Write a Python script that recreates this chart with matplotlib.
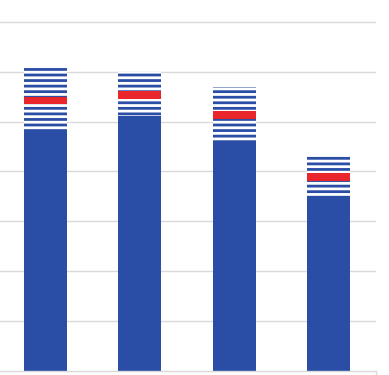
import numpy as np
from matplotlib import pyplot as plt

# values (one gridline = 10)
groups = ['A', 'B', 'C', 'D']
base = [48.1, 51.2, 45.8, 35.1]      # solid blue part
upper = [60.9, 60.1, 56.9, 43.3]     # top of the striped range
marker = [54.3, 55.4, 51.3, 38.9]    # red band centre

blue = '#2a4da6'
red = '#e8262b'
grid_c = '#d9d9d9'

plt.rcParams['hatch.linewidth'] = 2.0

fig = plt.figure(figsize=(3.89, 3.75), dpi=100)
ax = fig.add_axes([-1.7 / 389, 4.5 / 375, 377.4 / 389, 370.5 / 375])

x = np.arange(len(groups))
w = 0.456
band = 1.55

ax.bar(x, base, width=w, color=blue, linewidth=0, zorder=2)
ax.bar(x, np.subtract(upper, base), bottom=base, width=w, color='white',
       edgecolor=blue, hatch='---', linewidth=0, zorder=2)
ax.bar(x, band, bottom=np.subtract(marker, band / 2), width=w, color=red,
       linewidth=0, zorder=3)

ax.set_xlim(-0.5, 3.5)
ax.set_ylim(0, 370.5 / 4.975)
ax.set_yticks(np.arange(10, 80, 10))
ax.yaxis.grid(True, color=grid_c, linewidth=1.0)
ax.set_axisbelow(True)
ax.tick_params(axis='y', length=0, labelleft=False)
ax.set_xticks([3.5])
ax.tick_params(axis='x', length=3, color=grid_c, width=1.0, labelbottom=False)

for s in ['top', 'right', 'left']:
    ax.spines[s].set_visible(False)
ax.spines['bottom'].set_color(grid_c)
ax.spines['bottom'].set_linewidth(1.0)

plt.savefig('out.png', dpi=100)
